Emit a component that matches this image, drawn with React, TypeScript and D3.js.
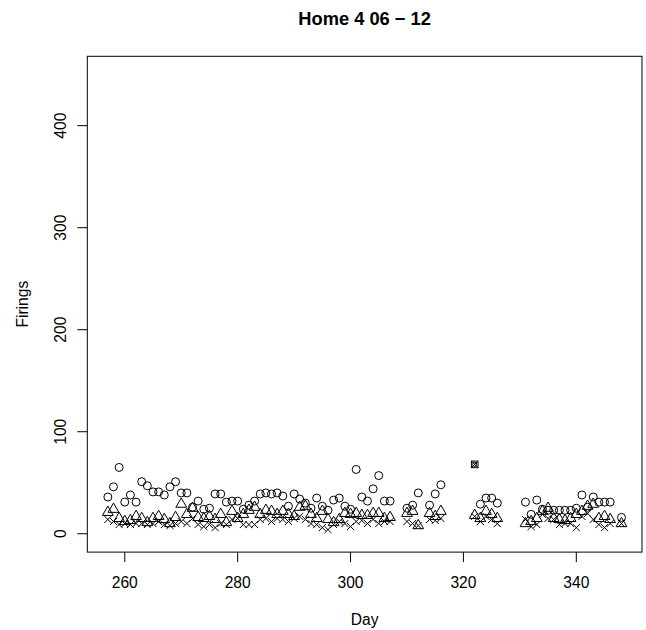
import React from "react";
import * as d3 from "d3";

const days = [
  257, 258, 259, 260, 261, 262, 263, 264, 265, 266, 267, 268, 269, 270, 271, 272, 273, 274, 275, 276,
  277, 278, 279, 280, 281, 282, 283, 284, 285, 286, 287, 288, 289, 290, 291, 292, 293, 294, 295, 296,
  297, 298, 299, 300, 301, 302, 303, 304, 305, 306, 307, 310, 311, 312, 314, 315, 316, 322, 323, 324,
  325, 326, 331, 332, 333, 334, 335, 336, 337, 338, 339, 340, 341, 342, 343, 344, 345, 346, 348,
];
// circles (null where drawn as the special marker)
const circleVals: (number | null)[] = [
  36, 46, 65, 31, 38, 31, 51, 47, 41, 41, 38, 46, 51, 40, 40, 26, 32, 24, 25, 39,
  39, 31, 32, 32, 24, 28, 32, 39, 40, 39, 40, 37, 27, 39, 34, 30, 25, 35, 27, 23,
  33, 35, 27, 24, 63, 36, 32, 44, 57, 32, 32, 25, 28, 40, 28, 39, 48, null, 29, 35,
  35, 30, 31, 19, 33, 24, 23, 23, 23, 23, 23, 25, 38, 26, 36, 31, 31, 31, 16,
];
const triangleVals = [
  21, 24, 15, 12, 13, 17, 15, 11, 15, 17, 14, 10, 16, 29, 19, 25, 16, 15, 17, 14,
  19, 11, 22, 15, 19, 23, 26, 19, 23, 22, 19, 22, 19, 17, 26, 27, 19, 15, 22, 14,
  11, 14, 20, 19, 20, 18, 18, 20, 20, 15, 16, 20, 22, 8, 20, 17, 22, 18, 15, 22,
  19, 15, 10, 12, 15, 22, 25, 15, 14, 13, 15, 19, 22, 27, 29, 15, 17, 14, 10,
];
const crossVals = [
  14, 12, 9, 10, 9, 10, 10, 9, 10, 12, 9, 8, 10, 12, 10, 15, 9, 7, 9, 6,
  10, 9, 14, 15, 9, 9, 9, 14, 15, 12, 15, 14, 12, 15, 17, 14, 10, 9, 6, 4,
  9, 12, 10, 7, 12, 13, 10, 14, 10, 12, 12, 12, 10, 8, 14, 13, 15, 17, 12, 17,
  14, 10, 14, 7, 9, 19, 15, 14, 9, 10, 10, 6, 17, 20, 14, 9, 6, 10, 10,
];
const specialDays = [322];
const specialVals = [68];

const xTicks = [260, 280, 300, 320, 340];
const yTicks = [0, 100, 200, 300, 400];
const title = "Home 4 06 \u2212 12";
const xLabel = "Day";
const yLabel = "Firings";

const W = 646;
const H = 630;
const L = 87.3;
const R = 642;
const T = 56.3;
const B = 552.1;

export default function App() {
  const xMin = d3.min(days)!;
  const xMax = d3.max(days)!;
  const xPad = (xMax - xMin) * 0.04;
  const x = d3.scaleLinear().domain([xMin - xPad, xMax + xPad]).range([L, R]);
  const y = d3.scaleLinear().domain([-18, 468]).range([B, T]);
  const font = "Liberation Sans, Arial, sans-serif";
  const xc = 4.0;
  const tri = (cx: number, cy: number) => {
    const r = 1.5551 * xc;
    const h = 1.3468 * xc;
    const b = 0.7776 * xc;
    return `M${cx},${cy - r}L${cx + h},${cy + b}L${cx - h},${cy + b}Z`;
  };
  const cs = 0.886 * xc;
  const stroke = "#000";
  return (
    <svg width={W} height={H} style={{ position: "absolute", left: 0, top: 0 }} fontFamily={font}>
      <rect width={W} height={H} fill="#fff" />
      <text x={(L + R) / 2} y={24.5} textAnchor="middle" fontWeight="bold" fontSize={18.3}>
        {title}
      </text>
      <rect x={L} y={T} width={R - L} height={B - T} fill="none" stroke="#000" strokeWidth={1} />
      {xTicks.map((t) => (
        <g key={"xt" + t}>
          <line x1={x(t)} x2={x(t)} y1={B} y2={B + 10} stroke="#000" />
          <text x={x(t)} y={587.6} textAnchor="middle" fontSize={15.6}>
            {t}
          </text>
        </g>
      ))}
      {yTicks.map((t) => (
        <g key={"yt" + t}>
          <line x1={L - 10} x2={L} y1={y(t)} y2={y(t)} stroke="#000" />
          <text
            transform={`translate(65.6,${y(t)}) rotate(-90)`}
            textAnchor="middle"
            fontSize={15.6}
          >
            {t}
          </text>
        </g>
      ))}
      <text x={(L + R) / 2} y={625} textAnchor="middle" fontSize={15.6}>
        {xLabel}
      </text>
      <text transform={`translate(28.3,${(T + B) / 2}) rotate(-90)`} textAnchor="middle" fontSize={15.6}>
        {yLabel}
      </text>
      <g fill="none" stroke={stroke} strokeWidth={1}>
        {days.map((d, i) =>
          circleVals[i] == null ? null : (
            <circle key={"c" + i} cx={x(d)} cy={y(circleVals[i] as number)} r={xc} />
          )
        )}
        {days.map((d, i) => (
          <path key={"t" + i} d={tri(x(d), y(triangleVals[i]))} />
        ))}
        {days.map((d, i) => {
          const cx = x(d);
          const cy = y(crossVals[i]);
          return (
            <path
              key={"x" + i}
              d={`M${cx - cs},${cy - cs}L${cx + cs},${cy + cs}M${cx - cs},${cy + cs}L${cx + cs},${cy - cs}`}
            />
          );
        })}
        {specialDays.map((d, i) => {
          const cx = x(d);
          const cy = y(specialVals[i]);
          const s = 3.3;
          return (
            <g key={"s" + i}>
              <rect x={cx - s} y={cy - s} width={2 * s} height={2 * s} />
              <path d={`M${cx - s},${cy - s}L${cx + s},${cy + s}M${cx - s},${cy + s}L${cx + s},${cy - s}`} />
              <circle cx={cx} cy={cy} r={2} />
            </g>
          );
        })}
      </g>
    </svg>
  );
}
